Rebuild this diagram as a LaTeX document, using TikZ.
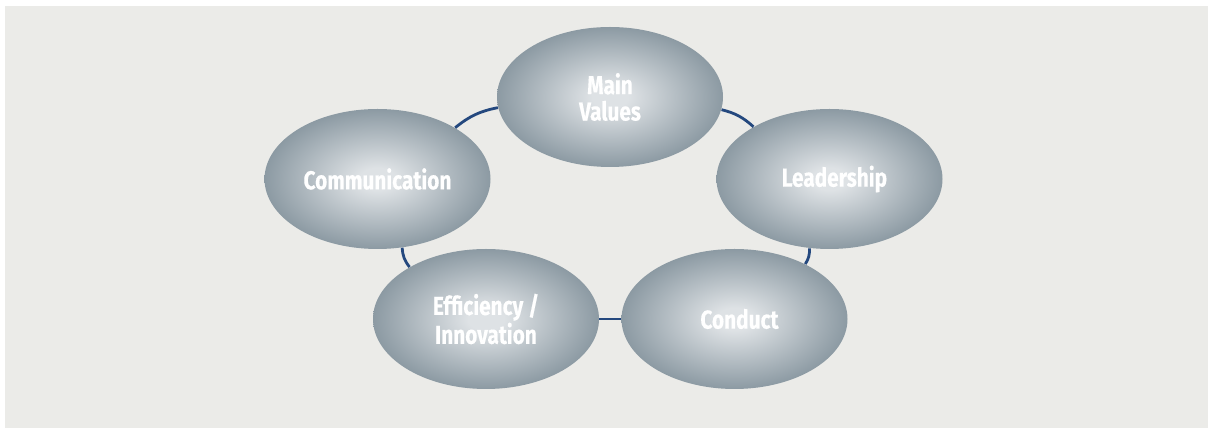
\documentclass[tikz,border=0pt]{standalone}
\usepackage{fontspec}
\newfontfamily\ovalfont[FakeStretch=0.8, FakeBold=0.3]{Fira Sans}
\usetikzlibrary{shapes.geometric}
\definecolor{pagebg}{RGB}{235,235,232}
\definecolor{ovalin}{RGB}{222,226,229}
\definecolor{ovalout}{RGB}{140,154,163}
\definecolor{ringblue}{RGB}{36,72,126}
\pgfdeclareradialshading{ovalshade}{\pgfpoint{0bp}{0bp}}{color(0bp)=(ovalin); color(4bp)=(ovalin); color(25bp)=(ovalout); color(50bp)=(ovalout)}
\tikzset{
    valuebox/.style={ellipse, shading=ovalshade, minimum width=113pt, minimum height=70pt, inner sep=0pt, align=center, text=white, font=\ovalfont\bfseries\fontsize{13}{13.2}\selectfont},
    ringline/.style={ringblue, line width=1.4pt}
}

\begin{document}
\begin{tikzpicture}[x=0.5pt, y=0.5pt]
    \fill[pagebg] (5,0) rectangle (1208,422);
    \useasboundingbox (0,0) rectangle (1211,428);

    \node[valuebox] (main) at (610,331) {Main\\Values};
    \node[valuebox] (comm) at (377.5,249) {Communication};
    \node[valuebox] (lead) at (829.5,249) {\hspace*{5pt}Leadership};
    \node[valuebox] (effi) at (486,109) {Efficiency /\\Innovation};
    \node[valuebox] (cond) at (734.5,109) {\hspace*{5pt}Conduct};

    \draw[ringline] (main) to[bend right=14] (comm);
    \draw[ringline] (comm) to[bend right=18] (effi);
    \draw[ringline] (effi) -- (cond);
    \draw[ringline] (cond) to[bend right=18] (lead);
    \draw[ringline] (lead) to[bend right=14] (main);
\end{tikzpicture}
\end{document}
